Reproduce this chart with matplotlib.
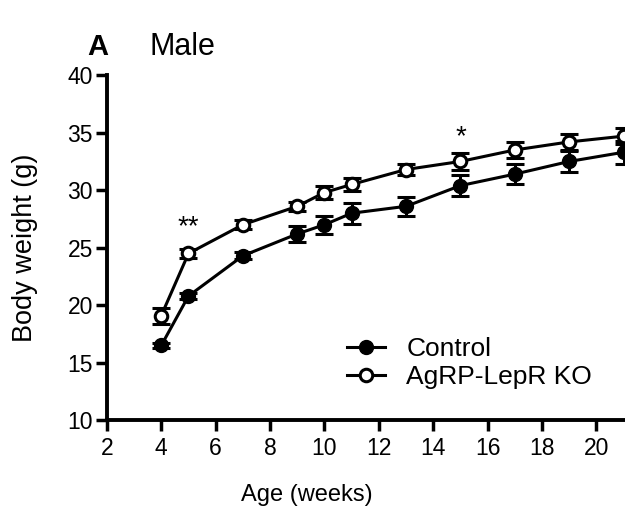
import matplotlib
matplotlib.use("Agg")
import matplotlib.pyplot as plt
from matplotlib.lines import Line2D

plt.rcParams["font.family"] = ["Liberation Sans", "DejaVu Sans"]

# data
weeks = [4, 5, 7, 9, 10, 11, 13, 15, 17, 19, 21]
control = [16.5, 20.8, 24.3, 26.2, 27.0, 28.0, 28.6, 30.4, 31.4, 32.5, 33.3]
control_err = [0.25, 0.3, 0.3, 0.7, 0.8, 0.9, 0.8, 0.9, 0.9, 0.9, 1.0]
ko = [19.1, 24.5, 27.0, 28.6, 29.8, 30.5, 31.8, 32.5, 33.5, 34.2, 34.7]
ko_err = [0.7, 0.4, 0.4, 0.4, 0.6, 0.6, 0.5, 0.7, 0.7, 0.7, 0.7]
stars = [(5, 26.8, "**"), (15, 34.65, "*")]
xticks = [2, 4, 6, 8, 10, 12, 14, 16, 18, 20]
yticks = [10, 15, 20, 25, 30, 35, 40]

fig = plt.figure(figsize=(6.25, 5.15), dpi=100)
ax = fig.add_axes([0.171, 0.184, 0.829, 0.67])

ax.errorbar(weeks, control, yerr=control_err, color="black", marker="o",
            markersize=10, lw=2.2, elinewidth=2.2, capsize=6.5, capthick=2.2)
ax.errorbar(weeks, ko, yerr=ko_err, color="black", marker="o",
            markersize=9, markerfacecolor="white", markeredgewidth=2.2,
            lw=2.2, elinewidth=2.2, capsize=6.5, capthick=2.2)

for x, y, s in stars:
    ax.text(x, y, s, ha="center", va="center", fontsize=20)

ax.set_xlim(2, 21.05)
ax.set_ylim(10, 40)
ax.set_xticks(xticks)
ax.set_yticks(yticks)
ax.tick_params(labelsize=16.5, width=2.5, length=8)
ax.tick_params(axis="y", pad=2)
ax.tick_params(axis="x", pad=4)
for side in ["top", "right"]:
    ax.spines[side].set_visible(False)
for side in ["left", "bottom"]:
    ax.spines[side].set_linewidth(2.8)

ax.set_xlabel("Age (weeks)", fontsize=17, va="center")
ax.xaxis.set_label_coords(0.386, -0.217)
ax.set_ylabel("Body weight (g)", fontsize=19.5, va="center")
ax.yaxis.set_label_coords(-0.158, 0.5)

handles = [
    Line2D([], [], color="black", lw=2.2, marker="o", markersize=10),
    Line2D([], [], color="black", lw=2.2, marker="o", markersize=9,
           markerfacecolor="white", markeredgewidth=2.2),
]
ax.legend(handles, ["Control", "AgRP-LepR KO"], loc="upper left",
          bbox_to_anchor=(0.555, 0.346), bbox_transform=fig.transFigure,
          frameon=False, fontsize=19, handlelength=1.45, handletextpad=0.8,
          labelspacing=0.15, borderpad=0, borderaxespad=0)

fig.text(0.157, 0.909, "A", fontsize=21, fontweight="bold", ha="center", va="center")
fig.text(0.24, 0.909, "Male", fontsize=22, ha="left", va="center")

fig.savefig("out.png", dpi=100)
